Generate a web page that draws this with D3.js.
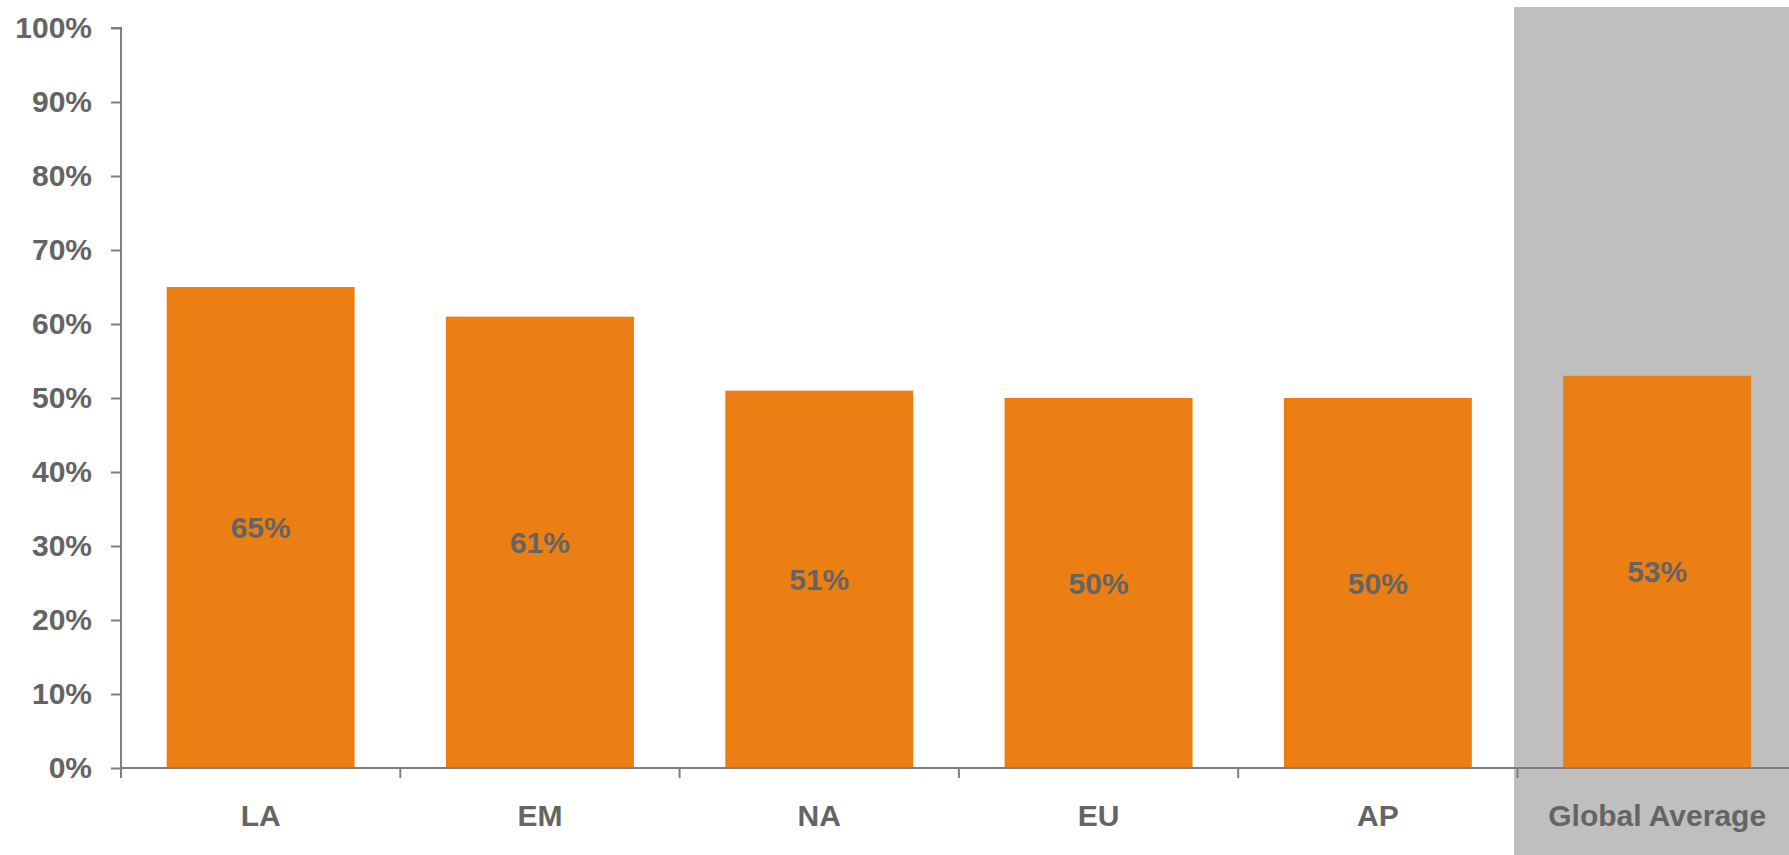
<!DOCTYPE html>
<html>
<head>
<meta charset="utf-8">
<script src="https://cdn.jsdelivr.net/npm/d3@7"></script>
<style>
  html, body { margin: 0; padding: 0; background: #ffffff; }
  svg { display: block; }
  text { font-family: "Liberation Sans", Arial, sans-serif; font-weight: bold; fill: #646464; }
</style>
</head>
<body>
<svg id="chart" width="1789" height="855"></svg>
<script>
const categories = ["LA", "EM", "NA", "EU", "AP", "Global Average"];
const values = [65, 61, 51, 50, 50, 53];
const yTicks = [0, 10, 20, 30, 40, 50, 60, 70, 80, 90, 100];
const highlighted = ["Global Average"];

(function () {
const W = 1789, H = 855;
const mLeft = 121, baseline = 768, mTop = 28;
const step = 279.3;
const fs = "30px";

const svg = d3.select("#chart");

const x = d3.scaleBand()
  .domain(categories)
  .range([mLeft, mLeft + step * categories.length])
  .padding(0);

const y = d3.scaleLinear().domain([0, 100]).range([baseline, mTop]);

const barW = x.bandwidth() * 0.673;
const barOff = (x.bandwidth() - barW) / 2;

// highlighted background
svg.selectAll("rect.hl")
  .data(highlighted)
  .enter().append("rect")
  .attr("class", "hl")
  .attr("x", d => x(d) - 3.5)
  .attr("y", 7)
  .attr("width", d => W - (x(d) - 3.5))
  .attr("height", H - 7)
  .attr("fill", "#bfbfbf");

// bars
svg.selectAll("rect.bar")
  .data(categories)
  .enter().append("rect")
  .attr("class", "bar")
  .attr("x", d => x(d) + barOff)
  .attr("width", barW)
  .attr("y", (d, i) => y(values[i]))
  .attr("height", (d, i) => baseline - y(values[i]))
  .attr("fill", "#ec7f13");

// value labels
svg.selectAll("text.val")
  .data(categories)
  .enter().append("text")
  .attr("class", "val")
  .attr("x", d => x(d) + x.bandwidth() / 2)
  .attr("y", (d, i) => (y(values[i]) + baseline) / 2)
  .attr("text-anchor", "middle")
  .attr("dominant-baseline", "central")
  .style("font-size", fs)
  .text((d, i) => values[i] + "%");

// y axis
const yAxis = d3.axisLeft(y)
  .tickValues(yTicks)
  .tickFormat(d => d + "%")
  .tickSize(10)
  .tickPadding(19);
const gy = svg.append("g").attr("transform", `translate(${mLeft},0)`).call(yAxis);
gy.select(".domain").attr("stroke", "#7f7f7f").attr("stroke-width", 2)
  .attr("d", `M-10,${mTop}H0V${baseline}`);
gy.selectAll(".tick line").attr("stroke", "#7f7f7f").attr("stroke-width", 2);
gy.selectAll(".tick text")
  .style("font-size", fs)
  .style("font-family", "'Liberation Sans', Arial, sans-serif")
  .style("font-weight", "bold")
  .attr("fill", "#646464");

// x axis
const boundaries = categories.map(c => x(c));
svg.append("line")
  .attr("x1", mLeft).attr("x2", W)
  .attr("y1", baseline).attr("y2", baseline)
  .attr("stroke", "#7f7f7f").attr("stroke-width", 2);
svg.selectAll("line.xtick")
  .data(boundaries)
  .enter().append("line")
  .attr("class", "xtick")
  .attr("x1", d => d).attr("x2", d => d)
  .attr("y1", baseline).attr("y2", baseline + 10)
  .attr("stroke", "#7f7f7f").attr("stroke-width", 2);

svg.selectAll("text.cat")
  .data(categories)
  .enter().append("text")
  .attr("class", "cat")
  .attr("x", d => x(d) + x.bandwidth() / 2)
  .attr("y", 826)
  .attr("text-anchor", "middle")
  .style("font-size", fs)
  .text(d => d);
})();
</script>
</body>
</html>
